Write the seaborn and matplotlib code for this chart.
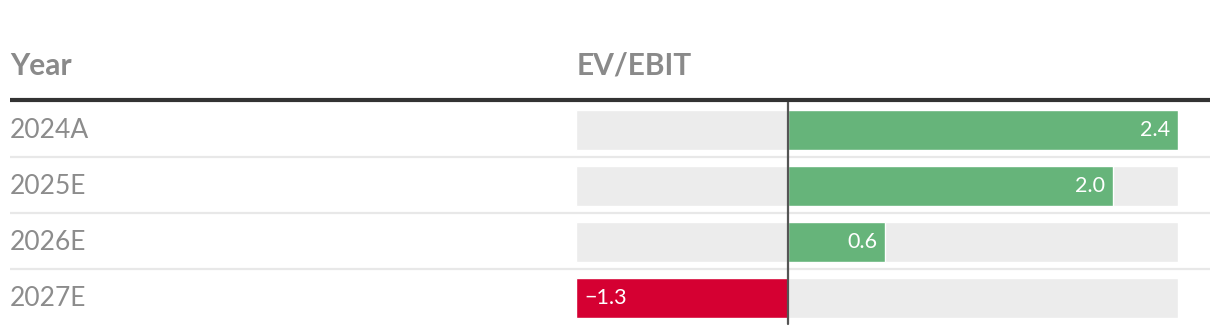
import matplotlib
matplotlib.use("Agg")
import matplotlib.pyplot as plt
import seaborn as sns
import pandas as pd

years = ["2024A", "2025E", "2026E", "2027E"]
ev_ebit = [2.4, 2.0, 0.6, -1.3]
value_labels = ["2.4", "2.0", "0.6", "\u22121.3"]
header_year = "Year"
header_metric = "EV/EBIT"

sns.set_theme(style="white")
plt.rcParams["font.family"] = ["Lato", "DejaVu Sans"]

W, H = 1220, 334
fig = plt.figure(figsize=(W / 100, H / 100), dpi=100)

# background axes in pixel coordinates
bg = fig.add_axes([0, 0, 1, 1])
bg.set_xlim(0, W)
bg.set_ylim(H, 0)
bg.axis("off")

GREY = "#8a8a8a"
bg.text(10, 75, header_year, fontsize=21.5, fontweight="bold", color=GREY, va="baseline", ha="left")
bg.text(577, 75, header_metric, fontsize=21.5, fontweight="bold", color=GREY, va="baseline", ha="left")
bg.plot([10, 1210], [100, 100], color="#333333", lw=3, solid_capstyle="butt")

row_top = 102
pitch = 56
for i, y in enumerate(years):
    cy = row_top + pitch * (i + 0.5)
    bg.text(10, cy, y, fontsize=19, fontweight="normal", color="#8c8c8c", va="center", ha="left")
    if i < len(years) - 1:
        bg.plot([10, 1210], [row_top + pitch * (i + 1) - 1, row_top + pitch * (i + 1) - 1],
                color="#e8e8e8", lw=1.6, solid_capstyle="butt")

# bar axes
left, right = 576, 1178
ax = fig.add_axes([left / W, 0, (right - left) / W, (H - row_top) / H])
df = pd.DataFrame({"year": years, "value": ev_ebit})
xmin, xmax = min(ev_ebit), max(ev_ebit)
ax.barh(range(len(years)), xmax - xmin, left=xmin, height=40 / pitch, color="#ececec", zorder=0)
colors = ["#66b47a" if v >= 0 else "#d50032" for v in ev_ebit]
sns.barplot(data=df, x="value", y="year", hue="year", palette=colors, legend=False,
            orient="h", width=40 / pitch, ax=ax, zorder=2, saturation=1)
ax.set_xlim(xmin, xmax)
ax.set_ylim((H - row_top) / pitch - 0.5, -0.5)
ax.axvline(0, ymin=(H - 324) / (H - row_top), ymax=1, color="#555555", lw=1.6, zorder=3)
pad = 0.05
for i, (v, lab) in enumerate(zip(ev_ebit, value_labels)):
    if v >= 0:
        ax.text(v - pad, i, lab, color="white", fontsize=15.5, fontweight="normal", ha="right", va="center", zorder=4)
    else:
        ax.text(v + pad, i, lab, color="white", fontsize=15.5, fontweight="normal", ha="left", va="center", zorder=4)
ax.axis("off")
ax.patch.set_alpha(0)

fig.savefig("out.png", dpi=100)
